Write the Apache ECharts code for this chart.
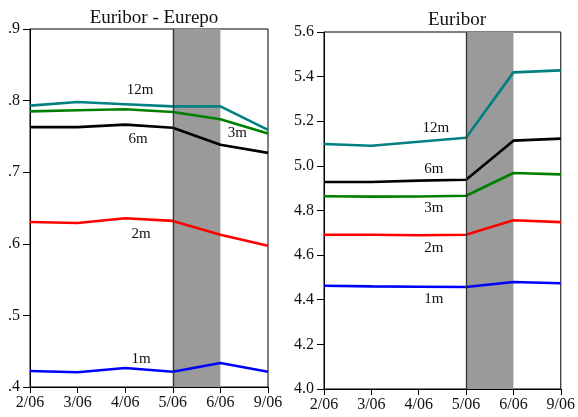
<!DOCTYPE html>
<html>
<head>
<meta charset="utf-8">
<script src="https://cdn.jsdelivr.net/npm/echarts@6/dist/echarts.min.js"></script>
<style>
  html, body { margin: 0; padding: 0; background: #fff; }
  #chart { width: 578px; height: 417px; }
</style>
</head>
<body>
<div id="chart"></div>
<script>
// Month labels shared by both panels
const months = ['2/06', '3/06', '4/06', '5/06', '6/06', '9/06'];

// Euribor minus Eurepo spread, by maturity
const spread1m  = [0.4223, 0.4205, 0.4265, 0.4214, 0.4335, 0.4214];
const spread2m  = [0.6305, 0.6290, 0.6356, 0.6320, 0.6127, 0.5973];
const spread3m  = [0.7850, 0.7865, 0.7880, 0.7840, 0.7740, 0.7540];
const spread6m  = [0.7630, 0.7630, 0.7665, 0.7620, 0.7384, 0.7270];
const spread12m = [0.7930, 0.7980, 0.7950, 0.7920, 0.7920, 0.7590];

// Euribor levels, by maturity
const euribor1m  = [4.463, 4.460, 4.4585, 4.457, 4.4795, 4.474];
const euribor2m  = [4.6916, 4.691, 4.689, 4.6916, 4.756, 4.748];
const euribor3m  = [4.864, 4.862, 4.863, 4.866, 4.968, 4.962];
const euribor6m  = [4.928, 4.928, 4.934, 4.938, 5.113, 5.122];
const euribor12m = [5.098, 5.090, 5.108, 5.126, 5.419, 5.428];

// Y-axis tick labels
const leftTicks  = ['.4', '.5', '.6', '.7', '.8', '.9'];
const rightTicks = ['4.0', '4.2', '4.4', '4.6', '4.8', '5.0', '5.2', '5.4', '5.6'];

// Shaded period
const shadeFrom = '5/06';
const shadeTo = '6/06';

const FONT = 'Liberation Serif';
const TXT = '#111';

const C = {
  m1: '#0000ff', m2: '#ff0000', m3: '#008000', m6: '#000000', m12: '#008080'
};

function axisX(gridIndex) {
  return {
    type: 'category', gridIndex, data: months, boundaryGap: false,
    axisLine: { show: true, lineStyle: { color: '#000', width: 1 } },
    axisTick: { show: true, inside: false, length: 6, alignWithLabel: true, lineStyle: { color: '#000' } },
    axisLabel: { fontFamily: FONT, fontSize: 16, color: TXT, margin: 8 },
    splitLine: { show: false }
  };
}

function axisY(gridIndex, min, max, interval, ticks) {
  return {
    type: 'value', gridIndex, min, max, interval,
    axisLine: { show: true, lineStyle: { color: '#000', width: 1 } },
    axisTick: { show: true, length: 7, lineStyle: { color: '#000' } },
    axisLabel: {
      fontFamily: FONT, fontSize: 16, color: TXT, margin: 10,
      formatter: (v) => {
        const i = Math.round((v - min) / interval);
        return ticks[i];
      }
    },
    splitLine: { show: false }
  };
}

// one line series; the point at index `at` carries the maturity label
function line(name, data, color, idx, at, offset) {
  return {
    name, type: 'line', xAxisIndex: idx, yAxisIndex: idx, z: 3,
    showSymbol: true, symbol: 'circle', symbolSize: 0,
    lineStyle: { color, width: 2.6 }, itemStyle: { color },
    animation: false,
    data: data.map((v, i) => i === at ? {
      value: v,
      label: {
        show: true, formatter: name, position: 'inside', offset,
        fontFamily: FONT, fontSize: 15, color: TXT,
        align: 'center', verticalAlign: 'middle'
      }
    } : v)
  };
}

function shade(idx) {
  return {
    type: 'line', xAxisIndex: idx, yAxisIndex: idx, z: 1, data: [], animation: false,
    markArea: {
      silent: true,
      itemStyle: { color: '#9a9a9a' },
      data: [[{ xAxis: shadeFrom }, { xAxis: shadeTo }]]
    },
    markLine: {
      silent: true, symbol: 'none', label: { show: false },
      lineStyle: { color: '#333', width: 1.3, type: 'solid' },
      data: [{ xAxis: shadeFrom }]
    }
  };
}

const chart = echarts.init(document.getElementById('chart'), null, { renderer: 'canvas' });
chart.setOption({
  backgroundColor: '#fff',
  animation: false,
  title: [
    { text: 'Euribor - Eurepo', left: 149, top: 4, textAlign: 'center',
      textStyle: { fontFamily: FONT, fontSize: 19, fontWeight: 'normal', color: TXT } },
    { text: 'Euribor', left: 452, top: 6, textAlign: 'center',
      textStyle: { fontFamily: FONT, fontSize: 19, fontWeight: 'normal', color: TXT } }
  ],
  grid: [
    { left: 30, top: 29, width: 238, height: 358, show: true, borderColor: '#000', borderWidth: 1, backgroundColor: 'transparent' },
    { left: 324, top: 32, width: 239, height: 357, show: true, borderColor: '#000', borderWidth: 1, backgroundColor: 'transparent' }
  ],
  xAxis: [axisX(0), axisX(1)],
  yAxis: [axisY(0, 0.4, 0.9, 0.1, leftTicks), axisY(1, 4.0, 5.6, 0.2, rightTicks)],
  series: [
    shade(0),
    line('12m', spread12m, C.m12, 0, 2, [15, -14]),
    line('3m',  spread3m,  C.m3,  0, 4, [17, 14]),
    line('6m',  spread6m,  C.m6,  0, 2, [13, 14]),
    line('2m',  spread2m,  C.m2,  0, 2, [16, 16]),
    line('1m',  spread1m,  C.m1,  0, 2, [16, -9]),
    shade(1),
    line('12m', euribor12m, C.m12, 1, 2, [17, -14]),
    line('6m',  euribor6m,  C.m6,  1, 2, [15, -12]),
    line('3m',  euribor3m,  C.m3,  1, 2, [15, 12]),
    line('2m',  euribor2m,  C.m2,  1, 2, [15, 13]),
    line('1m',  euribor1m,  C.m1,  1, 2, [15, 12])
  ]
});
</script>
</body>
</html>
